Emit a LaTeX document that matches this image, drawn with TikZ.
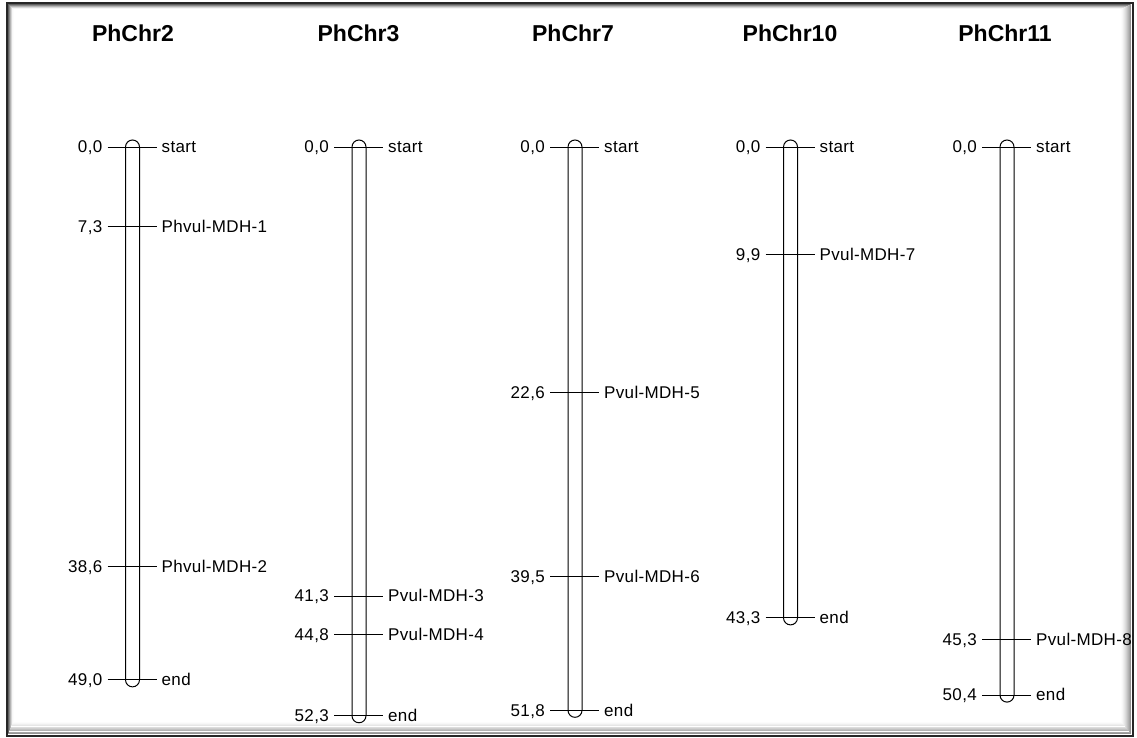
\documentclass[tikz,border=0pt]{standalone}
\usepackage{fontspec}
\setmainfont{Liberation Sans}
\newfontfamily\labelfont[LetterSpace=2]{Liberation Sans}
\begin{document}
\begin{tikzpicture}[x=1pt,y=-1pt,
  chrtitle/.style={font=\fontsize{23}{26}\selectfont\bfseries, inner sep=0pt, anchor=base},
  poslabel/.style={font=\labelfont\fontsize{17}{20}\selectfont, inner sep=0pt, anchor=base east},
  namelabel/.style={font=\labelfont\fontsize{17}{20}\selectfont, inner sep=0pt, anchor=base west},
  rod/.style={draw=black, fill=white, line width=1pt},
  tickline/.style={draw=black, line width=0.9pt}]

% page and framed panel with an inner shadow
\useasboundingbox (0,0) rectangle (1137,738);
\fill[white] (0,0) rectangle (1137,738);
\foreach \k in {1,...,10}{
  \pgfmathsetmacro\op{0.42*(1-(\k-1)/10)^1.6}
  \draw[black, opacity=\op, line width=1pt]
    (7.5+0.55*\k,3.5+0.55*\k) rectangle (1131.5-1.0*\k,734.5-1.25*\k);
}
\draw[black!85, line width=2pt] (7,3) rectangle (1133,736);

% one marker: tick across the rod, position on the left, name on the right
\newcommand\chrmark[5]{% id, centre x, position, position text, name
  \pgfmathsetmacro\yy{147+10.875*#3}
  \coordinate (#1-l) at (#2-25,\yy);
  \coordinate (#1-r) at (#2+24,\yy);
  \draw[tickline] (#1-l) -- (#1-r);
  \node[poslabel] (#1-p) at (#2-30,\yy+5.8) {#4};
  \node[namelabel] (#1-n) at (#2+29,\yy+5.8) {#5};
}
% one chromosome: title and rounded rod from 0 to its length
\newcommand\chrrod[4]{% id, centre x, title centre x, length
  \pgfmathsetmacro\ye{147+10.875*#4}
  \node[chrtitle] (#1) at (#3,41.5) {#1};
  \draw[rod] (#2-7,147) arc[start angle=180, end angle=0, radius=7pt]
    -- (#2+7,\ye) arc[start angle=0, end angle=-180, radius=7pt] -- cycle;
}

% PhChr2
\chrrod{PhChr2}{132.5}{133}{49.0}
\chrmark{c2a}{132.5}{0}{0,0}{start}
\chrmark{c2b}{132.5}{7.3}{7,3}{Phvul-MDH-1}
\chrmark{c2c}{132.5}{38.6}{38,6}{Phvul-MDH-2}
\chrmark{c2d}{132.5}{49.0}{49,0}{end}

% PhChr3
\chrrod{PhChr3}{359}{358.5}{52.3}
\chrmark{c3a}{359}{0}{0,0}{start}
\chrmark{c3b}{359}{41.3}{41,3}{Pvul-MDH-3}
\chrmark{c3c}{359}{44.8}{44,8}{Pvul-MDH-4}
\chrmark{c3d}{359}{52.3}{52,3}{end}

% PhChr7
\chrrod{PhChr7}{575}{573}{51.8}
\chrmark{c7a}{575}{0}{0,0}{start}
\chrmark{c7b}{575}{22.6}{22,6}{Pvul-MDH-5}
\chrmark{c7c}{575}{39.5}{39,5}{Pvul-MDH-6}
\chrmark{c7d}{575}{51.8}{51,8}{end}

% PhChr10
\chrrod{PhChr10}{790.5}{790}{43.3}
\chrmark{c10a}{790.5}{0}{0,0}{start}
\chrmark{c10b}{790.5}{9.9}{9,9}{Pvul-MDH-7}
\chrmark{c10c}{790.5}{43.3}{43,3}{end}

% PhChr11
\chrrod{PhChr11}{1007}{1005}{50.4}
\chrmark{c11a}{1007}{0}{0,0}{start}
\chrmark{c11b}{1007}{45.3}{45,3}{Pvul-MDH-8}
\chrmark{c11c}{1007}{50.4}{50,4}{end}
\end{tikzpicture}
\end{document}
